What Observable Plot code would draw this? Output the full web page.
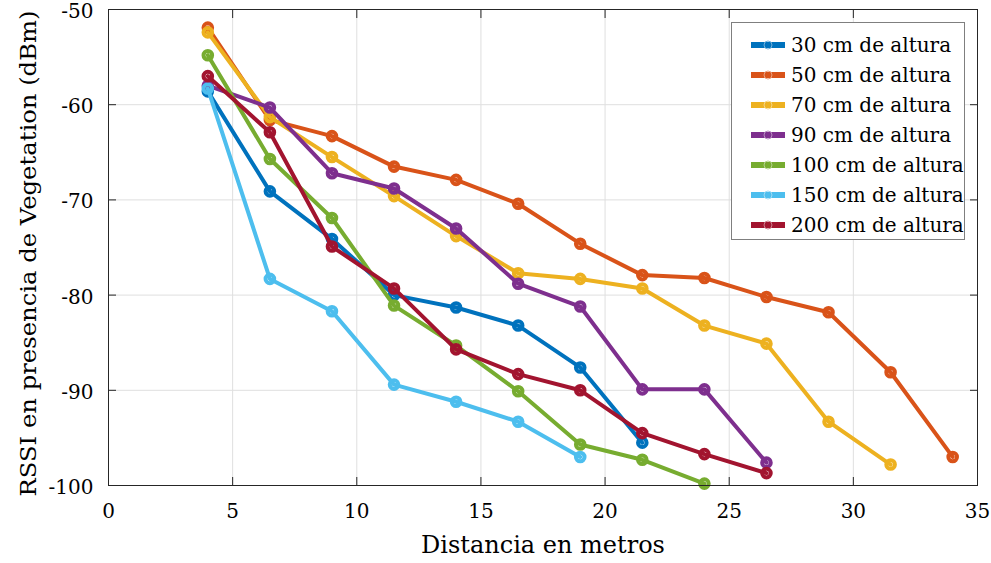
<!DOCTYPE html>
<html>
<head>
<meta charset="utf-8">
<script src="https://cdn.jsdelivr.net/npm/d3@7"></script>
<script src="https://cdn.jsdelivr.net/npm/@observablehq/plot@0.6"></script>
<style>
  body { margin: 0; background: #fff; }
  #chart { position: relative; width: 991px; height: 563px; font-family: "DejaVu Serif", serif; }
  #legend {
    position: absolute; left: 731px; top: 22px; width: 234px; height: 218px;
    box-sizing: border-box; border: 1px solid #7f7f7f; background: #fff;
    padding-top: 7px;
  }
  .row { display: flex; align-items: center; height: 30px; font-size: 20px; color: #000; }
  .row svg { margin-left: 19px; margin-right: 6px; flex: none; }
</style>
</head>
<body>
<div id="chart"><div id="legend"></div></div>
<script>
// Distance from the transmitter (m)
const distances = [4, 6.5, 9, 11.5, 14, 16.5, 19, 21.5, 24, 26.5, 29, 31.5, 34];

// RSSI (dBm) measured at each receiver height
const rssi30 = [-58.6, -69.1, -74.1, -80.0, -81.3, -83.2, -87.6, -95.5];
const rssi50 = [-51.9, -61.6, -63.3, -66.5, -67.9, -70.4, -74.6, -77.9, -78.2, -80.2, -81.8, -88.1, -97.0];
const rssi70 = [-52.4, -61.3, -65.5, -69.6, -73.8, -77.7, -78.3, -79.3, -83.2, -85.1, -93.3, -97.8];
const rssi90 = [-58.0, -60.3, -67.2, -68.8, -73.0, -78.8, -81.2, -89.9, -89.9, -97.6];
const rssi100 = [-54.8, -65.7, -71.9, -81.1, -85.3, -90.1, -95.7, -97.3, -99.8];
const rssi150 = [-58.3, -78.3, -81.7, -89.4, -91.2, -93.3, -97.0];
const rssi200 = [-57.0, -62.9, -74.9, -79.3, -85.7, -88.3, -90.0, -94.5, -96.7, -98.7];

const seriesNames = ["30 cm de altura", "50 cm de altura", "70 cm de altura", "90 cm de altura",
                     "100 cm de altura", "150 cm de altura", "200 cm de altura"];
const seriesValues = [rssi30, rssi50, rssi70, rssi90, rssi100, rssi150, rssi200];
const seriesColors = ["#0072BD", "#D95319", "#EDB120", "#7E2F8E", "#77AC30", "#4DBEEE", "#A2142F"];

const xTicks = [0, 5, 10, 15, 20, 25, 30, 35];
const yTicks = [-100, -90, -80, -70, -60, -50];
const xTitle = "Distancia en metros";
const yTitle = "RSSI en presencia de Vegetation (dBm)";

const series = seriesNames.map((name, k) =>
  seriesValues[k].map((v, i) => ({ x: distances[i], y: v, name }))
);

// each series is drawn as a line followed by its markers, later series on top
const seriesMarks = series.flatMap(rows => [
  Plot.line(rows, { x: "x", y: "y", stroke: "name", strokeWidth: 4, strokeLinejoin: "round" }),
  Plot.dot(rows, { x: "x", y: "y", stroke: "name", r: 4.3, strokeWidth: 4, fill: "none" })
]);

const fmt = d => String(d);

const chart = Plot.plot({
  width: 991,
  height: 563,
  marginLeft: 108,
  marginRight: 14,
  marginTop: 9,
  marginBottom: 78,
  style: { fontFamily: "DejaVu Serif, serif", fontSize: "20px", color: "#000", background: "#fff", overflow: "visible" },
  x: { domain: [0, 35] },
  y: { domain: [-100, -50] },
  color: { domain: seriesNames, range: seriesColors },
  marks: [
    Plot.gridX([5, 10, 15, 20, 25, 30], { stroke: "#dfdfdf", strokeOpacity: 1 }),
    Plot.gridY([-90, -80, -70, -60], { stroke: "#dfdfdf", strokeOpacity: 1 }),
    // tick labels
    Plot.axisX(xTicks, { anchor: "bottom", tickSize: 0, tickPadding: 18, tickFormat: fmt, label: null }),
    Plot.axisY(yTicks, { anchor: "left", tickSize: 0, tickPadding: 15, dy: 2, tickFormat: fmt, label: null }),
    // axis titles
    Plot.text([xTitle], { text: d => d, frameAnchor: "bottom", dy: 67, fontSize: 24, fill: "#000" }),
    Plot.text([yTitle], { text: d => d, frameAnchor: "left", textAnchor: "middle", rotate: -90,
      dx: -80, dy: 6, fontSize: 22, fill: "#000" }),
    // inward ticks on all four sides
    Plot.axisX(xTicks, { anchor: "bottom", tickSize: -8, fill: "none", label: null, stroke: "#262626" }),
    Plot.axisX(xTicks, { anchor: "top", tickSize: -8, fill: "none", label: null, stroke: "#262626" }),
    Plot.axisY(yTicks, { anchor: "left", tickSize: -8, fill: "none", label: null, stroke: "#262626" }),
    Plot.axisY(yTicks, { anchor: "right", tickSize: -8, fill: "none", label: null, stroke: "#262626" }),
    ...seriesMarks,
    Plot.frame({ stroke: "#262626" })
  ]
});

// fit the vertical title to the frame height
d3.select(chart).selectAll("text")
  .filter(function () { return this.textContent === yTitle; })
  .attr("textLength", 486)
  .attr("lengthAdjust", "spacingAndGlyphs");

const host = document.getElementById("chart");
host.insertBefore(chart, host.firstChild);

// legend
const legend = d3.select("#legend");
seriesNames.forEach((name, k) => {
  const row = legend.append("div").attr("class", "row");
  const svg = row.append("svg").attr("width", 34).attr("height", 12);
  svg.append("line").attr("x1", 0).attr("x2", 34).attr("y1", 6).attr("y2", 6)
    .attr("stroke", seriesColors[k]).attr("stroke-width", 6);
  svg.append("circle").attr("cx", 17).attr("cy", 6).attr("r", 4)
    .attr("fill", "none").attr("stroke", d3.interpolateRgb(seriesColors[k], "#fff")(0.45)).attr("stroke-width", 1);
  row.append("span").text(name);
});
</script>
</body>
</html>
